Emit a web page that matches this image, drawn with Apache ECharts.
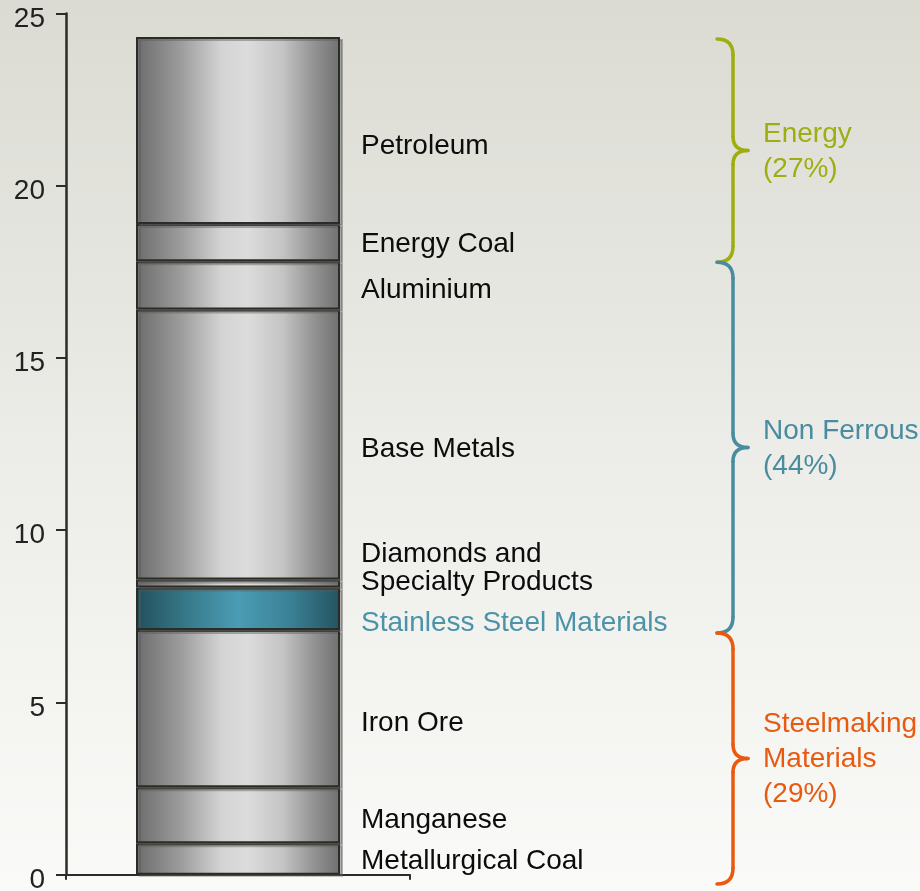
<!DOCTYPE html>
<html>
<head>
<meta charset="utf-8">
<script src="https://cdn.jsdelivr.net/npm/echarts@6/dist/echarts.min.js"></script>
<style>
  html, body { margin: 0; padding: 0; }
  #chart { width: 920px; height: 891px; }
</style>
</head>
<body>
<div id="chart"></div>
<script>
// stacked segments, bottom to top
var segments = ['Metallurgical Coal', 'Manganese', 'Iron Ore', 'Stainless Steel Materials',
  'Diamonds and\nSpecialty Products', 'Base Metals', 'Aluminium', 'Energy Coal', 'Petroleum'];
var values = [0.91, 1.63, 4.56, 1.24, 0.23, 7.84, 1.40, 1.08, 5.43];

// bracket groups on the right
var groupNames = ['Energy', 'Non Ferrous', 'Steelmaking\nMaterials'];
var groupShares = ['27%', '44%', '29%'];
var groupTop = [24.26, 17.78, 7.02];
var groupBottom = [17.78, 7.02, -0.27];

var FONT = '"Liberation Sans", Arial, sans-serif';
var greyFill = {
  type: 'linear', x: 0, y: 0, x2: 1, y2: 0,
  colorStops: [
    { offset: 0, color: '#6c6c6c' },
    { offset: 0.22, color: '#9c9c9c' },
    { offset: 0.42, color: '#d4d4d4' },
    { offset: 0.55, color: '#dcdcdc' },
    { offset: 0.72, color: '#c4c4c4' },
    { offset: 0.88, color: '#909090' },
    { offset: 1, color: '#707070' }
  ]
};
var tealFill = {
  type: 'linear', x: 0, y: 0, x2: 1, y2: 0,
  colorStops: [
    { offset: 0, color: '#23505c' },
    { offset: 0.25, color: '#37798a' },
    { offset: 0.5, color: '#4a9db5' },
    { offset: 0.75, color: '#3b8296' },
    { offset: 1, color: '#245360' }
  ]
};
// label nudges so text sits where the original put it
var labelDy = [2, 5, 15, 15, -15, 5, 5, 2, 16];
var groupColors = ['#9eae10', '#4a8c9f', '#e85a10'];

var myChart = echarts.init(document.getElementById('chart'));

var series = segments.map(function (name, i) {
  var isSteel = i === 3;
  return {
    name: name,
    type: 'bar',
    stack: 'total',
    barWidth: 204,
    data: [values[i]],
    itemStyle: {
      color: isSteel ? tealFill : greyFill,
      borderColor: '#2a2d25',
      borderWidth: 2,
      shadowColor: 'rgba(90,90,90,0.45)',
      shadowOffsetX: 3,
      shadowOffsetY: 2
    },
    label: {
      show: true,
      position: 'right',
      distance: 21,
      offset: [0, labelDy[i]],
      formatter: name,
      color: isSteel ? '#4b93a8' : '#0c0c0c',
      fontFamily: FONT,
      fontSize: 28,
      lineHeight: 28
    },
    emphasis: { disabled: true },
    animation: false
  };
});

myChart.setOption({
  backgroundColor: {
    type: 'linear', x: 0, y: 0, x2: 0, y2: 1,
    colorStops: [
      { offset: 0, color: '#dbdbd3' },
      { offset: 0.5, color: '#ecece8' },
      { offset: 1, color: '#fafaf8' }
    ]
  },
  animation: false,
  grid: { left: 66, right: 510, top: 13.5, bottom: 16.3, outerBoundsMode: 'none' },
  xAxis: {
    type: 'category',
    data: [''],
    axisLine: { lineStyle: { color: '#2a2d25', width: 2 } },
    axisTick: { show: true, length: 5, lineStyle: { color: '#2a2d25', width: 2 } },
    axisLabel: { show: false }
  },
  yAxis: {
    type: 'value',
    min: 0,
    max: 25,
    interval: 5,
    axisLine: { show: true, lineStyle: { color: '#2a2d25', width: 2.5 } },
    axisTick: { show: true, length: 10, lineStyle: { color: '#2a2d25', width: 2 } },
    splitLine: { show: false },
    axisLabel: {
      color: '#222', fontFamily: FONT, fontSize: 28, margin: 21,
      verticalAlign: 'top', lineHeight: 11
    }
  },
  series: series
});

// braces drawn in data space
var graphics = [];
groupNames.forEach(function (g, i) {
  var y0 = myChart.convertToPixel({ yAxisIndex: 0 }, groupTop[i]);
  var y1 = myChart.convertToPixel({ yAxisIndex: 0 }, groupBottom[i]);
  var mid = (y0 + y1) / 2;
  var xe = 717, xv = 733, xp = 748;
  var st = { fill: null, stroke: groupColors[i], lineWidth: 3.5, lineCap: 'round' };
  var parts = [
    { type: 'bezierCurve', shape: { x1: xe, y1: y0, cpx1: xv, cpy1: y0, x2: xv, y2: y0 + 16 } },
    { type: 'line', shape: { x1: xv, y1: y0 + 16, x2: xv, y2: mid - 14 } },
    { type: 'bezierCurve', shape: { x1: xv, y1: mid - 14, cpx1: xv, cpy1: mid, x2: xp, y2: mid } },
    { type: 'bezierCurve', shape: { x1: xp, y1: mid, cpx1: xv, cpy1: mid, x2: xv, y2: mid + 14 } },
    { type: 'line', shape: { x1: xv, y1: mid + 14, x2: xv, y2: y1 - 16 } },
    { type: 'bezierCurve', shape: { x1: xv, y1: y1 - 16, cpx1: xv, cpy1: y1, x2: xe, y2: y1 } }
  ];
  parts.forEach(function (p) {
    p.style = st;
    p.silent = true;
    graphics.push(p);
  });
  graphics.push({
    type: 'text',
    x: 763,
    y: mid + 1,
    style: {
      text: g + '\n(' + groupShares[i] + ')',
      fill: groupColors[i],
      font: '28px ' + FONT,
      lineHeight: 35,
      verticalAlign: 'middle',
      align: 'left'
    },
    silent: true
  });
});
myChart.setOption({ graphic: graphics });
</script>
</body>
</html>
